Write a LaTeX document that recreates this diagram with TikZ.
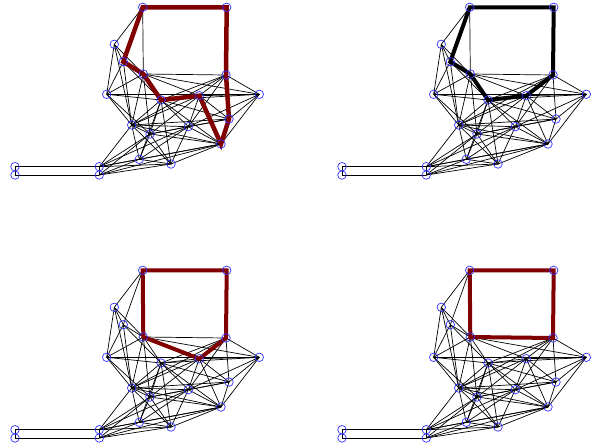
\documentclass[tikz,border=0pt]{standalone}
\usetikzlibrary{calc}
\definecolor{Ring}{HTML}{3030FF}
\definecolor{Cycle}{HTML}{800000}
\tikzset{
  vert/.style={circle,draw=Ring,line width=0.7pt,minimum size=8.5pt,inner sep=0pt},
  edge/.style={draw=black,line width=0.7pt},
  redcycle/.style={draw=Cycle,line width=4pt},
  blackcycle/.style={draw=black,line width=4pt}
}
% vertex positions of one panel (pixels, y down)
\newcommand{\placevertices}{%
  \coordinate (A) at (142.7,7.3);
  \coordinate (B) at (226.7,7.3);
  \coordinate (C) at (114.3,44.3);
  \coordinate (D) at (123.3,61.7);
  \coordinate (E) at (143.3,74);
  \coordinate (F) at (226,75);
  \coordinate (G) at (106.7,94.3);
  \coordinate (H) at (259.3,94.3);
  \coordinate (I) at (161,100);
  \coordinate (J) at (199.3,95.7);
  \coordinate (K) at (229,119);
  \coordinate (L) at (131.7,125);
  \coordinate (M) at (188.3,126.7);
  \coordinate (N) at (150,134);
  \coordinate (O) at (221,144);
  \coordinate (P) at (139.3,159.3);
  \coordinate (Q) at (171,164);
  \coordinate (R) at (99.3,166.7);
  \coordinate (S) at (99.3,175);
  \coordinate (T) at (15,166.7);
  \coordinate (U) at (15,175);
}
\newcommand{\drawedges}{%
  \foreach \p/\q in {A/B,A/C,A/D,A/E,B/F,E/F,
      C/D,C/G,C/E,C/L,D/E,D/G,D/L,D/I,
      E/G,E/I,E/L,E/N,E/J,E/H,
      F/H,F/J,F/I,F/K,F/M,F/L,
      G/H,G/I,G/L,G/N,
      H/J,H/K,H/O,H/M,H/I,
      I/J,I/L,I/M,I/N,I/O,I/Q,I/K,I/P,
      J/K,J/M,J/L,J/N,J/O,
      K/M,K/O,K/L,K/N,
      L/M,L/N,L/P,L/Q,L/R,L/O,
      M/N,M/O,M/P,M/Q,M/R,
      N/O,N/P,N/Q,N/R,N/S,
      O/P,O/Q,O/R,O/S,
      P/Q,P/R,P/S,Q/R,Q/S,
      R/S,R/T,S/U,T/U}
    \draw[edge] (\p) -- (\q);
}
\newcommand{\drawrings}{%
  \foreach \v in {A,B,C,D,E,F,G,H,I,J,K,L,M,N,O,P,Q,R,S,T,U}
    \node[vert] (\v ring) at (\v) {};
}

\begin{document}
\begin{tikzpicture}[x=1pt,y=-1pt]
  \useasboundingbox (0,0) rectangle (594,442);

  % top left
  \begin{scope}[name prefix=tl-]
    \placevertices
    \drawedges
    \draw[redcycle,line width=4.5pt] (A) -- (B) -- (F) -- (K) -- (O) -- (J) -- (I) -- (E) -- (D) -- cycle;
    \drawrings
  \end{scope}

  % top right
  \begin{scope}[shift={(327,0)},name prefix=tr-]
    \placevertices
    \drawedges
    \draw[blackcycle] (A) -- (B) -- (F) -- (J) -- (I) -- (E) -- (D) -- cycle;
    \drawrings
  \end{scope}

  % bottom left
  \begin{scope}[shift={(0,263)},name prefix=bl-]
    \placevertices
    \drawedges
    \draw[redcycle] (A) -- (B) -- (F) -- (J) -- (E) -- cycle;
    \drawrings
  \end{scope}

  % bottom right
  \begin{scope}[shift={(327,263)},name prefix=br-]
    \placevertices
    \drawedges
    \draw[redcycle] (A) -- (B) -- (F) -- (E) -- cycle;
    \drawrings
  \end{scope}
\end{tikzpicture}
\end{document}
